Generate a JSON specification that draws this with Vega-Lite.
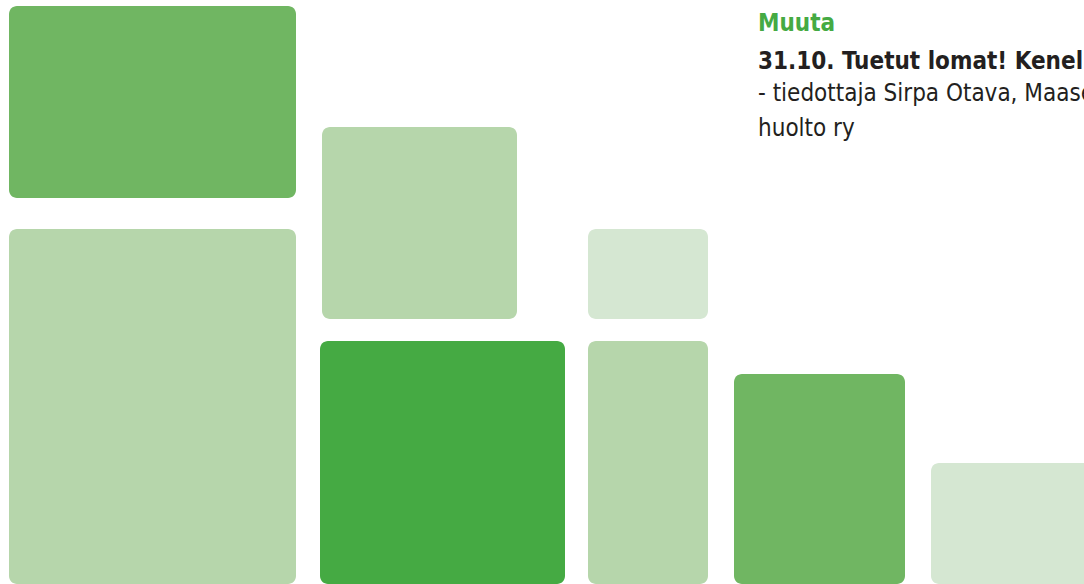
{
  "$schema": "https://vega.github.io/schema/vega-lite/v6.json",
  "width": 1084,
  "height": 584,
  "padding": 0,
  "autosize": {"type": "none"},
  "background": "#ffffff",
  "config": {"view": {"stroke": null}},
  "datasets": {
    "blocks": [
      {"id": "a", "x": 9, "x2": 296, "y": 6, "y2": 198, "shade": "medium"},
      {"id": "b", "x": 9, "x2": 296, "y": 229, "y2": 584, "shade": "light"},
      {"id": "c", "x": 322, "x2": 517, "y": 127, "y2": 319, "shade": "light"},
      {"id": "d", "x": 320, "x2": 565, "y": 341, "y2": 584, "shade": "dark"},
      {"id": "e", "x": 588, "x2": 708, "y": 229, "y2": 319, "shade": "lightest"},
      {"id": "f", "x": 588, "x2": 708, "y": 341, "y2": 584, "shade": "light"},
      {"id": "g", "x": 734, "x2": 905, "y": 374, "y2": 584, "shade": "medium"},
      {"id": "h", "x": 931, "x2": 1100, "y": 463, "y2": 584, "shade": "lightest"}
    ],
    "texts": [
      {"x": 758, "y": 30.5, "text": "Muuta", "style": "heading"},
      {"x": 758, "y": 68.5, "text": "31.10. Tuetut lomat! Kenelle?", "style": "bold"},
      {"x": 758, "y": 100.5, "text": "- tiedottaja Sirpa Otava, Maaseudun Terveys- ja Loma-", "style": "regular"},
      {"x": 758, "y": 136, "text": "huolto ry", "style": "regular"}
    ]
  },
  "layer": [
    {
      "data": {"name": "blocks"},
      "mark": {"type": "rect", "cornerRadius": 8, "clip": true},
      "encoding": {
        "x": {"field": "x", "type": "quantitative", "scale": {"domain": [0, 1084], "nice": false, "zero": false}, "axis": null},
        "x2": {"field": "x2"},
        "y": {"field": "y", "type": "quantitative", "scale": {"domain": [0, 584], "reverse": true, "nice": false, "zero": false}, "axis": null},
        "y2": {"field": "y2"},
        "color": {
          "field": "shade", "type": "nominal", "legend": null,
          "scale": {"domain": ["dark", "medium", "light", "lightest"], "range": ["#45aa43", "#70b662", "#b6d6ab", "#d5e7d2"]}
        }
      }
    },
    {
      "data": {"name": "texts"},
      "transform": [{"filter": "datum.style === 'heading'"}],
      "mark": {"type": "text", "align": "left", "baseline": "alphabetic", "fontSize": 24, "fontWeight": "bold", "font": "Liberation Sans Narrow, DejaVu Sans Condensed, sans-serif", "color": "#45aa43", "clip": true},
      "encoding": {
        "x": {"field": "x", "type": "quantitative"},
        "y": {"field": "y", "type": "quantitative"},
        "text": {"field": "text"}
      }
    },
    {
      "data": {"name": "texts"},
      "transform": [{"filter": "datum.style === 'bold'"}],
      "mark": {"type": "text", "align": "left", "baseline": "alphabetic", "fontSize": 24, "fontWeight": "bold", "font": "Liberation Sans Narrow, DejaVu Sans Condensed, sans-serif", "color": "#231f20", "clip": true},
      "encoding": {
        "x": {"field": "x", "type": "quantitative"},
        "y": {"field": "y", "type": "quantitative"},
        "text": {"field": "text"}
      }
    },
    {
      "data": {"name": "texts"},
      "transform": [{"filter": "datum.style === 'regular'"}],
      "mark": {"type": "text", "align": "left", "baseline": "alphabetic", "fontSize": 24, "fontWeight": "normal", "font": "Liberation Sans Narrow, DejaVu Sans Condensed, sans-serif", "color": "#231f20", "clip": true},
      "encoding": {
        "x": {"field": "x", "type": "quantitative"},
        "y": {"field": "y", "type": "quantitative"},
        "text": {"field": "text"}
      }
    }
  ]
}
